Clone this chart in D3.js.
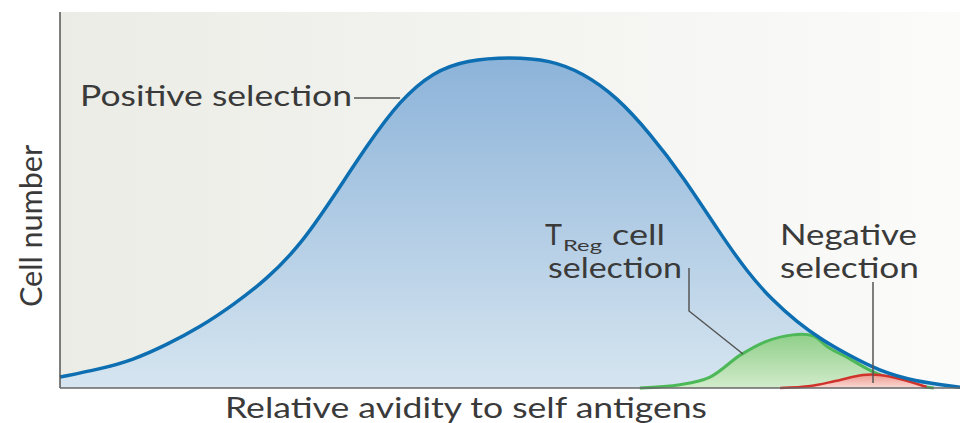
<!DOCTYPE html>
<html><head><meta charset="utf-8">
<script src="https://cdn.jsdelivr.net/npm/d3@7"></script>
<style>body{margin:0;background:#fff}svg{display:block}text{font-family:Lato,"Noto Sans",sans-serif;fill:#3a3a3a}</style>
</head><body><svg id="c" width="960" height="423"></svg>
<script>
// avidity (0-100) and relative cell number (0-100)
const positiveX = [0, 4.5, 8.2, 12.0, 15.8, 19.5, 23.3, 27.0, 30.7, 34.6, 38.3, 42.0, 45.8, 50.7, 55.2, 58.9, 62.7, 66.4, 70.2, 74.3, 77.4, 80.2, 83.0, 85.8, 88.6, 92.3, 96.1, 101.4];
const positiveY = [3.3, 5.7, 8.4, 13.0, 18.4, 25.0, 32.8, 42.8, 57.2, 73.2, 86.7, 95.2, 98.8, 99.7, 98.8, 94.9, 87.7, 76.8, 63.6, 46.7, 34.9, 26.5, 19.9, 14.5, 10.2, 5.1, 2.1, 0.2];
const tregX = [65.3, 69.8, 73.2, 76.6, 79.4, 82.5, 84.8, 86.5, 88.8, 91.4, 94.4, 96.7, 98.4];
const tregY = [0, 1.0, 3.3, 9.9, 13.9, 16.0, 15.7, 12.3, 9.0, 5.1, 2.1, 0.6, 0];
const negX = [81.1, 84.5, 87.3, 90.4, 92.3, 94.6, 97.6];
const negY = [0, 0.6, 2.1, 3.9, 3.9, 2.7, 0.3];
const labels = {
  xAxis: "Relative avidity to self antigens",
  yAxis: "Cell number",
  positive: "Positive selection",
  negative: ["Negative", "selection"],
  treg: ["T", "Reg", "cell", "selection"]
};

const svg = d3.select("#c");
const x = d3.scaleLinear().domain([0, 100]).range([60, 948]);
const y = d3.scaleLinear().domain([0, 100]).range([388, 56]);

const defs = svg.append("defs");
function lg(id, x1, y1, x2, y2, stops) {
  const g = defs.append("linearGradient").attr("id", id)
    .attr("x1", x1).attr("y1", y1).attr("x2", x2).attr("y2", y2);
  stops.forEach(s => g.append("stop").attr("offset", s[0]).attr("stop-color", s[1]));
}
lg("bg", 0, 0, 1, 0, [[0, "#ebece5"], [0.55, "#f4f5f1"], [1, "#fbfbfa"]]);
lg("blue", 0, 0, 0, 1, [[0, "#8cb3d9"], [1, "#d6e5f0"]]);
lg("green", 0, 0, 0, 1, [[0, "#8fcf89"], [1, "#d2ebcb"]]);
lg("red", 0, 0, 0, 1, [[0, "#ee9a90"], [1, "#f9dbd5"]]);

svg.append("rect").attr("x", 60).attr("y", 12).attr("width", 900).attr("height", 376).attr("fill", "url(#bg)");

const zip = (xs, ys) => xs.map((v, i) => [v, ys[i]]);
const mkArea = c => d3.area().x(d => x(d[0])).y0(y(0)).y1(d => y(d[1])).curve(c);
const mkLine = c => d3.line().x(d => x(d[0])).y(d => y(d[1])).curve(c);
const smooth = d3.curveBasis, interp = d3.curveCatmullRom.alpha(0.5);

const pos = zip(positiveX, positiveY), tr = zip(tregX, tregY), ng = zip(negX, negY);
svg.append("path").attr("d", mkArea(smooth)(pos)).attr("fill", "url(#blue)");
svg.append("path").attr("d", mkArea(interp)(tr)).attr("fill", "url(#green)");
svg.append("path").attr("d", mkLine(interp)(tr)).attr("fill", "none").attr("stroke", "#4cb857").attr("stroke-width", 3);
svg.append("path").attr("d", mkArea(interp)(ng)).attr("fill", "url(#red)");
svg.append("path").attr("d", mkLine(interp)(ng)).attr("fill", "none").attr("stroke", "#d0322c").attr("stroke-width", 2.5);
svg.append("path").attr("d", mkLine(smooth)(pos)).attr("fill", "none").attr("stroke", "#0d6fb1").attr("stroke-width", 3.5);

// axes
svg.append("line").attr("x1", 60).attr("x2", 60).attr("y1", 12).attr("y2", 388).attr("stroke", "#555").attr("stroke-width", 1.5);
svg.append("line").attr("x1", 60).attr("x2", 960).attr("y1", 388).attr("y2", 388).attr("stroke", "#666").attr("stroke-width", 1.5);

function txt(s, tx, ty, size, len) {
  return svg.append("text").attr("x", tx).attr("y", ty).attr("font-size", size)
    .attr("textLength", len).attr("lengthAdjust", "spacingAndGlyphs").text(s);
}
txt(labels.xAxis, 225, 418, 28, 482);
svg.append("text").attr("transform", "translate(42,307) rotate(-90)").attr("font-size", 30)
  .attr("textLength", 162).attr("lengthAdjust", "spacingAndGlyphs").text(labels.yAxis);

txt(labels.positive, 80, 106, 29, 272);
const tl = svg.append("text").attr("font-size", 28);
tl.append("tspan").attr("x", 545).attr("y", 245).attr("textLength", 17).attr("lengthAdjust", "spacingAndGlyphs").text(labels.treg[0]);
tl.append("tspan").attr("x", 563).attr("y", 251).attr("font-size", 16).attr("textLength", 39).attr("lengthAdjust", "spacingAndGlyphs").text(labels.treg[1]);
tl.append("tspan").attr("x", 612).attr("y", 245).attr("textLength", 53).attr("lengthAdjust", "spacingAndGlyphs").text(labels.treg[2]);
txt(labels.treg[3], 548, 278, 28, 134);
txt(labels.negative[0], 780, 245, 28, 137);
txt(labels.negative[1], 780, 278, 28, 139);

// leaders
const leader = (pts) => svg.append("path").attr("d", d3.line()(pts)).attr("fill", "none").attr("stroke", "#555").attr("stroke-width", 1.5);
leader([[354, 98], [x(38.3), 98]]);
leader([[689, 268], [689, 311], [743, 354]]);
leader([[873, 282], [873, 383]]);
</script></body></html>
